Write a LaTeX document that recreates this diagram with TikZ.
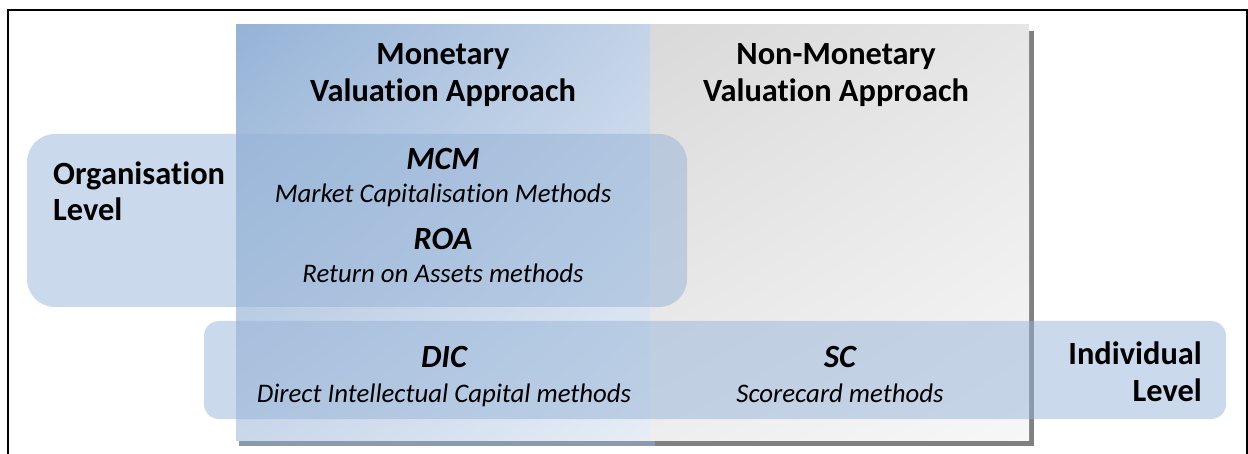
\documentclass[tikz,border=0pt]{standalone}
\usepackage{fontspec}
\setmainfont[Ligatures={NoCommon,NoRare}]{Carlito}
\usetikzlibrary{shadings}
\begin{document}
\begin{tikzpicture}[x=1pt,y=-1pt,
  head/.style={inner sep=0pt,anchor=base,font=\fontsize{32.4}{37}\selectfont\bfseries},
  abbr/.style={inner sep=0pt,anchor=base,font=\fontsize{32.4}{37}\selectfont\bfseries\itshape},
  desc/.style={inner sep=0pt,anchor=base,font=\fontsize{26.8}{32}\selectfont\itshape},
  levelbox/.style={fill=monA,fill opacity=0.5}]
\definecolor{monA}{HTML}{95B3D7}
\definecolor{monB}{HTML}{C3D3E8}
\definecolor{monC}{HTML}{C9D7EA}
\definecolor{monD}{HTML}{E6EDF6}
\definecolor{nonA}{HTML}{D9D9D9}
\definecolor{nonB}{HTML}{E6E6E6}
\definecolor{nonC}{HTML}{EEEEEE}
\definecolor{nonD}{HTML}{F7F7F7}
\definecolor{shadeBlue}{HTML}{8D9AAE}
\definecolor{shadeGray}{HTML}{808080}
\useasboundingbox (0,0) rectangle (1248,454);

% outer frame (open at the bottom)
\draw[line width=2.5pt] (7.8,460) -- (7.8,10.2) -- (1247,10.2) -- (1247,460);

% column shadows
\fill[shadeBlue] (239,31) rectangle (655,446);
\fill[shadeGray] (655,31) rectangle (1034,446);

% the two valuation columns
\shade[upper left=monA,upper right=monB,lower left=monC,lower right=monD]
  (236,25) rectangle (650,440);
\shade[upper left=nonA,upper right=nonB,lower left=nonC,lower right=nonD]
  (650,25) rectangle (1029,440);

% level bands
\fill[levelbox,rounded corners=28pt] (27,134) rectangle (687,307);
\fill[levelbox,rounded corners=15pt] (204,321) rectangle (1226,419);

% column headings
\node[head] (mon1) at (443,65) {Monetary};
\node[head] (mon2) at (443,102) {Valuation Approach};
\node[head] (non1) at (836,65) {Non-Monetary};
\node[head] (non2) at (836,102) {Valuation Approach};

% level labels
\node[head,anchor=base west] (org1) at (53,185) {Organisation};
\node[head,anchor=base west] (org2) at (53,221) {Level};
\node[head,anchor=base east] (ind1) at (1202,364) {Individual};
\node[head,anchor=base east] (ind2) at (1202,401) {Level};

% method families
\node[abbr] (mcm) at (443,170) {MCM};
\node[desc] (mcmd) at (443,203) {Market Capitalisation Methods};
\node[abbr] (roa) at (443,250) {ROA};
\node[desc] (road) at (443,283) {Return on Assets methods};
\node[abbr] (dic) at (444,367) {DIC};
\node[desc] (dicd) at (444,402) {Direct Intellectual Capital methods};
\node[abbr] (sc) at (840,367) {SC};
\node[desc] (scd) at (840,402) {Scorecard methods};
\end{tikzpicture}
\end{document}
